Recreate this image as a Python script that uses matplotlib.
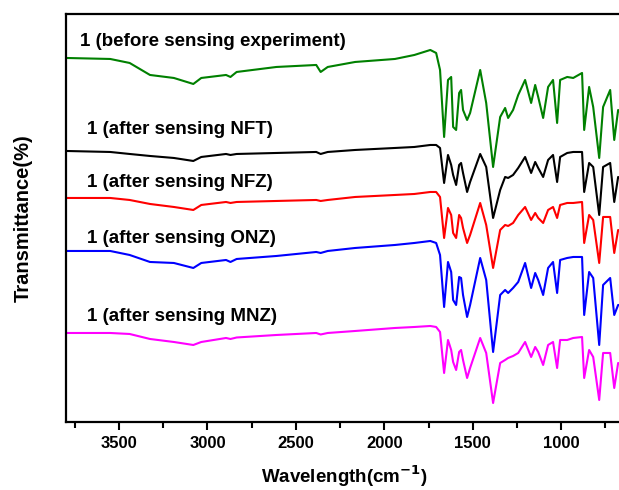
import matplotlib.pyplot as plt
from matplotlib.ticker import MultipleLocator

plt.rcParams['font.family'] = ['Liberation Sans', 'DejaVu Sans']
plt.rcParams['font.weight'] = 'bold'

# wavenumber points (cm-1), shared by all spectra
wavenumber = [3800, 3550, 3440, 3325, 3190, 3080, 3035, 2895, 2870, 2835,
              2610, 2385, 2360, 2320, 2165, 1940, 1830, 1740, 1707, 1685,
              1662, 1640, 1622, 1611, 1594, 1577, 1566, 1555, 1532, 1515,
              1458, 1424, 1385, 1345, 1317, 1300, 1272, 1243, 1204, 1170,
              1147, 1130, 1102, 1074, 1046, 1023, 1006, 966, 932, 882,
              870, 842, 819, 785, 763, 723, 700, 678, 655]

# offset transmittance (a.u.)
before = [364, 363, 359, 347, 344, 338, 344, 347, 345, 350,
          355, 357, 350, 355, 360, 363, 367, 372, 369, 352,
          285, 342, 345, 295, 292, 329, 332, 312, 302, 309,
          352, 319, 255, 305, 314, 304, 312, 327, 342, 319,
          337, 325, 304, 335, 342, 299, 342, 345, 344, 349,
          292, 335, 315, 264, 315, 332, 282, 312, 307]
nft = [271, 270, 268, 266, 264, 261, 265, 268, 267, 268,
       269, 270, 268, 270, 272, 274, 275, 277, 277, 274,
       239, 267, 257, 247, 237, 257, 259, 249, 230, 240,
       268, 255, 204, 232, 245, 244, 247, 254, 265, 249,
       260, 254, 245, 262, 267, 240, 265, 269, 270, 270,
       230, 259, 255, 207, 255, 259, 220, 245, 242]
nfz = [224, 224, 222, 218, 215, 212, 217, 220, 219, 220,
       221, 222, 221, 222, 225, 227, 228, 230, 230, 225,
       184, 214, 207, 189, 184, 207, 204, 194, 179, 187,
       219, 197, 154, 192, 197, 196, 199, 207, 215, 202,
       209, 204, 199, 212, 215, 204, 217, 219, 219, 220,
       179, 207, 202, 159, 205, 205, 169, 192, 190]
onz = [171, 171, 167, 160, 159, 154, 159, 162, 160, 163,
       166, 170, 169, 171, 174, 177, 179, 181, 179, 167,
       115, 160, 150, 122, 117, 145, 144, 127, 105, 117,
       164, 142, 70, 127, 132, 129, 134, 140, 159, 134,
       149, 142, 127, 154, 160, 129, 162, 164, 165, 165,
       107, 150, 144, 77, 137, 144, 107, 117, 117]
mnz = [89, 89, 88, 83, 80, 77, 80, 84, 83, 84.5,
       87, 89, 87.5, 89, 91, 94, 95, 96, 95, 90,
       49, 82, 72, 60, 52, 70, 72, 62, 44, 54,
       84, 69, 19, 59, 62, 64, 66, 69, 80, 65,
       75, 70, 57, 77, 80, 54, 82, 82, 84, 85,
       44, 72, 65, 22, 69, 69, 34, 59, 57]

series = [before, nft, nfz, onz, mnz]
colors = ['#008000', '#000000', '#ff0000', '#0000ff', '#ff00ff']
labels = ['1 (before sensing experiment)', '1 (after sensing NFT)',
          '1 (after sensing NFZ)', '1 (after sensing ONZ)',
          '1 (after sensing MNZ)']
label_pos = [(3721, 380), (3681, 292), (3681, 239), (3681, 183), (3681, 105)]

fig = plt.figure(figsize=(6.19, 4.90), dpi=100)
ax = fig.add_axes([0.1066, 0.1388, 0.9, 0.8327])

for y, c, lab, (tx, ty) in zip(series, colors, labels, label_pos):
    ax.plot(wavenumber, y, color=c, lw=1.5)
    ax.text(tx, ty, lab, fontsize=13.5, fontweight='bold', ha='left', va='center')

ax.set_xlim(3800, 650)
ax.set_ylim(0, 408)
ax.set_yticks([])
ax.xaxis.set_major_locator(MultipleLocator(500))
ax.xaxis.set_minor_locator(MultipleLocator(250))
ax.tick_params(axis='x', which='major', direction='out', length=6, width=1.5,
               labelsize=12, pad=4)
ax.tick_params(axis='x', which='minor', direction='out', length=4, width=1.5)
for s in ax.spines.values():
    s.set_linewidth(1.6)

ax.set_xlabel('Wavelength(cm$^{\\mathbf{-1}}$)', fontsize=13.5, fontweight='bold', labelpad=9)
ax.set_ylabel('Transmittance(%)', fontsize=14.5, fontweight='bold', labelpad=24)

fig.savefig('out.png', dpi=100)
